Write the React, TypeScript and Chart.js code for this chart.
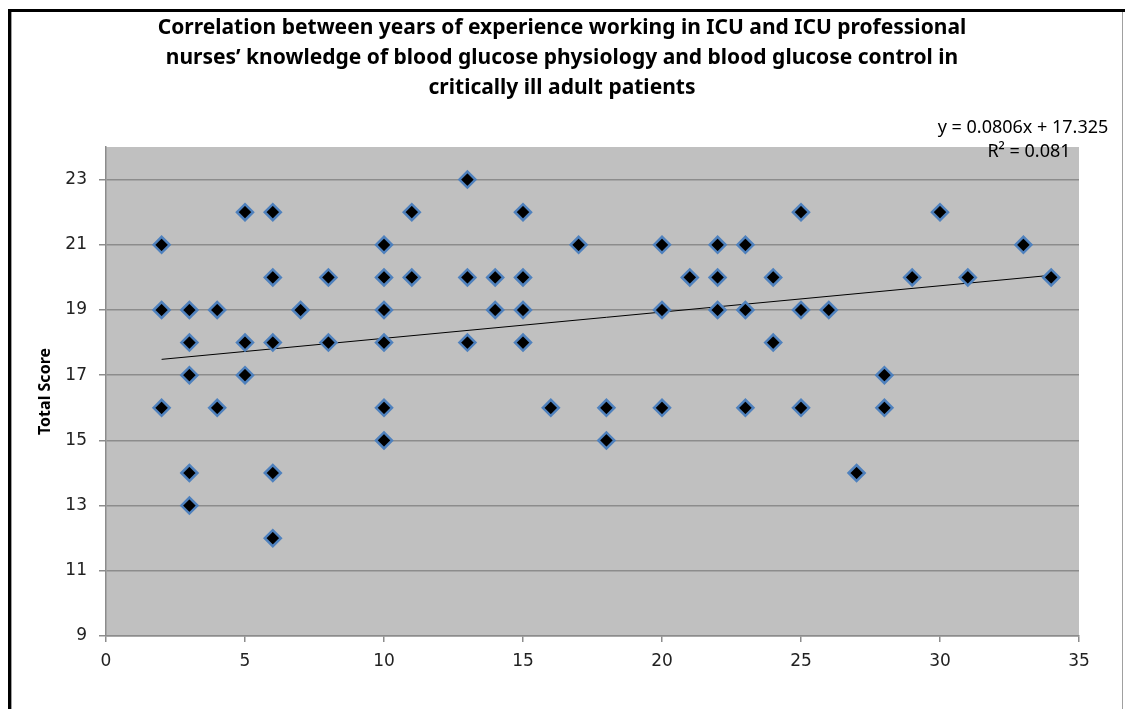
import React, { useEffect, useRef } from "react";
import { Chart, registerables } from "chart.js";

Chart.register(...registerables);

const titleLines = [
  "Correlation between years of experience working in ICU and ICU professional",
  "nurses’ knowledge of blood glucose physiology and blood glucose control in",
  "critically ill adult patients",
];
const equationLines = ["y = 0.0806x + 17.325", "R² = 0.081"];
const yAxisTitle = "Total Score";

// years of experience working in ICU
const experienceYears = [
  2, 2, 2,
  3, 3, 3, 3, 3,
  4, 4,
  5, 5, 5,
  6, 6, 6, 6, 6,
  7,
  8, 8,
  10, 10, 10, 10, 10, 10,
  11, 11,
  13, 13, 13,
  14, 14,
  15, 15, 15, 15,
  16,
  17,
  18, 18,
  20, 20, 20,
  21,
  22, 22, 22,
  23, 23, 23,
  24, 24,
  25, 25, 25,
  26,
  27,
  28, 28,
  29,
  30,
  31,
  33,
  34,
];
// total knowledge score
const totalScores = [
  21, 19, 16,
  19, 18, 17, 14, 13,
  19, 16,
  22, 18, 17,
  22, 20, 18, 14, 12,
  19,
  20, 18,
  21, 20, 19, 18, 16, 15,
  22, 20,
  23, 20, 18,
  20, 19,
  22, 20, 19, 18,
  16,
  21,
  16, 15,
  21, 19, 16,
  20,
  21, 20, 19,
  21, 19, 16,
  20, 18,
  22, 19, 16,
  19,
  14,
  17, 16,
  20,
  22,
  20,
  21,
  20,
];

const trendSlope = 0.0806;
const trendIntercept = 17.325;
const trendRange = [2, 34];

const yTickValues = [9, 11, 13, 15, 17, 19, 21, 23];
const xTickStep = 5;

export default function App() {
  const canvasRef = useRef<HTMLCanvasElement | null>(null);

  useEffect(() => {
    const canvas = canvasRef.current;
    if (!canvas) return;

    const decorPlugin = {
      id: "decor",
      beforeDraw(chart: any) {
        const { ctx, chartArea } = chart;
        ctx.save();
        ctx.fillStyle = "#ffffff";
        ctx.fillRect(0, 0, chart.width, chart.height);
        ctx.fillStyle = "#c0c0c0";
        ctx.fillRect(
          chartArea.left,
          chartArea.top,
          chartArea.right - chartArea.left,
          chartArea.bottom - chartArea.top
        );
        // outer frame
        ctx.fillStyle = "#000000";
        ctx.fillRect(8, 9, chart.width - 8, 3);
        ctx.fillRect(8, 9, 3, chart.height - 9);
        ctx.fillStyle = "#a0a0a0";
        ctx.fillRect(11, 12, 1, chart.height - 12);
        ctx.fillRect(1122, 12, 1, chart.height - 12);
        ctx.restore();
      },
      afterDraw(chart: any) {
        const { ctx } = chart;
        ctx.save();
        ctx.fillStyle = "#000000";
        ctx.textAlign = "center";
        ctx.textBaseline = "middle";
        ctx.font = "bold 21px 'Noto Sans', sans-serif";
        titleLines.forEach((line, i) => {
          ctx.fillText(line, 562, 28 + i * 30);
        });
        ctx.font = "18px 'Noto Sans', sans-serif";
        ctx.fillText(equationLines[0], 1023, 128);
        ctx.fillText(equationLines[1], 1029, 152);
        ctx.restore();
      },
    };

    const chart = new Chart(canvas, {
      type: "scatter",
      data: {
        datasets: [
          {
            type: "line",
            label: "Trend",
            data: trendRange.map((x) => ({ x, y: trendSlope * x + trendIntercept })),
            borderColor: "#000000",
            borderWidth: 1,
            pointRadius: 0,
            fill: false,
            order: 2,
          },
          {
            type: "scatter",
            label: "Total Score",
            data: experienceYears.map((x, i) => ({ x, y: totalScores[i] })),
            pointStyle: "rectRot",
            pointRadius: 8,
            pointHoverRadius: 8,
            backgroundColor: "#000000",
            borderColor: "#4f81bd",
            borderWidth: 2.5,
            order: 1,
          },
        ],
      },
      options: {
        responsive: false,
        animation: false,
        events: [],
        layout: { padding: { left: 0, right: 46, top: 147, bottom: 0 } },
        plugins: {
          legend: { display: false },
          title: { display: false },
          tooltip: { enabled: false },
        },
        scales: {
          x: {
            type: "linear",
            min: 0,
            max: 35,
            afterFit(scale: any) {
              scale.height = 73;
            },
            ticks: {
              stepSize: xTickStep,
              color: "#222222",
              font: { family: "'DejaVu Sans', sans-serif", size: 17 },
              padding: 9,
            },
            grid: {
              drawOnChartArea: false,
              drawTicks: true,
              tickLength: 6,
              color: "#8c8c8c",
              lineWidth: 1.5,
            },
            border: { display: true, color: "#8c8c8c", width: 1.5 },
          },
          y: {
            type: "linear",
            min: 9,
            max: 24,
            afterFit(scale: any) {
              scale.width = 106;
            },
            afterBuildTicks(scale: any) {
              scale.ticks = yTickValues.map((v) => ({ value: v }));
            },
            ticks: {
              color: "#222222",
              font: { family: "'DejaVu Sans', sans-serif", size: 17 },
              padding: 12,
            },
            grid: {
              drawTicks: true,
              tickLength: 7,
              color: "#8c8c8c",
              lineWidth: 1.5,
            },
            border: { display: true, color: "#8c8c8c", width: 1.5 },
            title: {
              display: true,
              text: yAxisTitle,
              color: "#000000",
              font: { family: "'Noto Sans', sans-serif", size: 16, weight: "bold" },
              padding: { top: 36, bottom: 0 },
            },
          },
        },
      },
      plugins: [decorPlugin],
    });

    return () => {
      chart.destroy();
    };
  }, []);

  return (
    <canvas
      ref={canvasRef}
      width={1125}
      height={709}
      style={{ position: "fixed", left: 0, top: 0, width: "1125px", height: "709px", display: "block" }}
    />
  );
}
